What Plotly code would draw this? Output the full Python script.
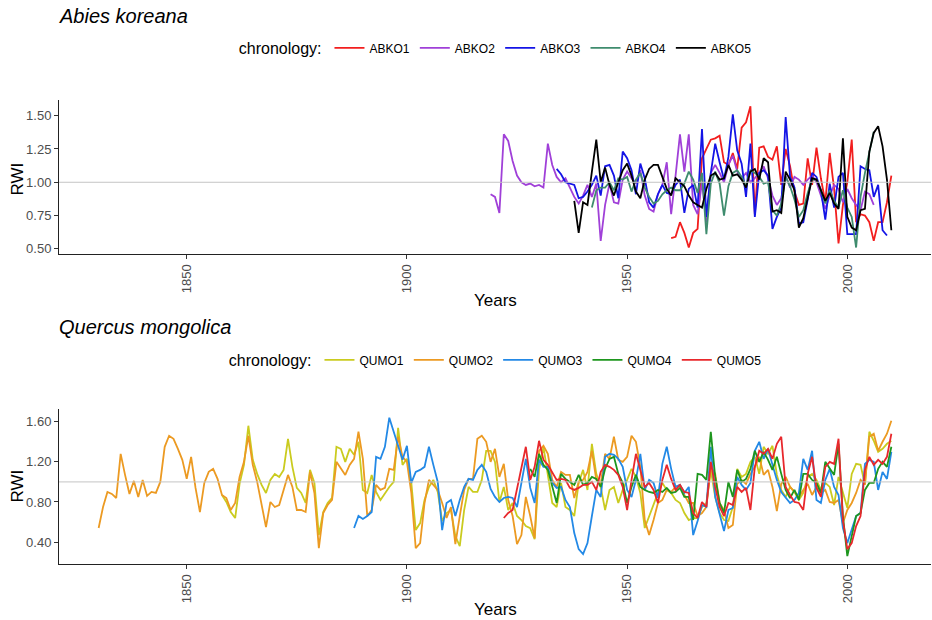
import plotly.graph_objects as go

# ---------------- data (RWI per year) ----------------
abko_names = ["ABKO1", "ABKO2", "ABKO3", "ABKO4", "ABKO5"]
abko_start = [1960, 1919, 1934, 1942, 1938]

abko1 = [0.58, 0.59, 0.70, 0.62, 0.51, 0.62, 0.65, 1.18, 1.25, 1.32,
         1.33, 1.35, 1.15, 1.13, 1.22, 1.10, 1.41, 1.45, 1.57, 0.76,
         1.26, 1.27, 1.19, 1.17, 1.27, 0.98, 1.25, 1.12, 0.93, 0.83,
         0.84, 1.18, 0.98, 1.26, 1.03, 0.85, 1.22, 0.95, 0.54, 0.83,
         1.00, 1.32, 0.70, 0.76, 0.75, 0.70, 0.56, 0.70, 0.70, 0.85, 1.05]
abko2 = [0.91,
         0.89, 0.77, 1.36, 1.31, 1.16, 1.05, 1.00, 0.98, 0.99, 0.97,
         0.98, 0.96, 1.29, 1.13, 1.04, 1.00, 1.03, 0.96, 0.89, 0.84,
         0.90, 0.98, 0.89, 0.99, 0.56, 0.83, 0.99, 0.85, 0.84, 1.02,
         1.08, 1.03, 0.99, 1.09, 0.90, 0.80, 0.78, 0.91, 0.98, 1.15,
         0.76, 1.05, 1.36, 1.08, 1.36, 0.83, 0.76, 1.00, 0.70, 1.07,
         1.13, 1.07, 1.00, 1.13, 1.20, 1.08, 1.03, 1.07, 1.00, 1.03,
         1.08, 1.12, 1.03, 0.90, 0.83, 0.88, 1.05, 0.96, 1.04, 1.02,
         0.98, 1.02, 1.05, 1.00, 0.90, 0.80, 0.90, 0.98, 0.95, 0.85,
         0.95, 0.88, 0.83, 0.79, 0.93, 0.91, 0.83]
abko3 = [1.10, 1.06, 1.00, 0.99, 0.98, 0.88,
         0.89, 0.93, 0.98, 1.05, 0.90, 1.12, 1.13, 1.05, 0.88, 1.23,
         1.18, 1.09, 0.91, 1.14, 1.03, 0.85, 0.81, 0.91, 0.98, 0.92,
         0.91, 0.98, 1.02, 0.77, 0.95, 0.98, 0.81, 1.40, 0.74, 1.07,
         1.29, 1.15, 1.02, 1.19, 1.51, 1.24, 1.14, 0.89, 1.29, 0.74,
         1.07, 1.09, 1.05, 0.65, 0.74, 0.81, 1.49, 1.04, 0.96, 0.69,
         0.70, 0.87, 1.07, 1.04, 0.94, 0.72, 0.99, 0.81, 1.04, 1.07,
         0.61, 0.61, 0.61, 1.12, 1.10, 1.09, 0.89, 0.98, 0.64, 0.60]
abko4 = [0.81, 0.94, 0.96, 0.96, 1.00, 0.94, 1.03, 1.02,
         1.04, 0.93, 1.02, 1.07, 0.96, 0.89, 0.84, 0.86, 0.91, 0.94,
         0.96, 0.94, 0.94, 0.99, 1.08, 1.02, 0.92, 1.07, 0.61, 0.99,
         1.08, 0.99, 0.75, 0.97, 1.07, 1.09, 1.04, 0.97, 1.09, 1.07,
         1.04, 0.99, 1.00, 0.79, 0.75, 0.84, 1.04, 0.97, 0.87, 0.74,
         0.79, 0.92, 1.02, 1.02, 0.94, 0.84, 0.94, 0.86, 0.81, 0.94,
         0.81, 0.74, 0.51, 0.89, 1.07, 1.23, 1.38]
abko5 = [0.86, 0.62,
         0.85, 0.83, 1.08, 1.32, 1.00, 1.11, 0.98, 0.90, 1.00, 1.09,
         1.14, 1.05, 0.93, 0.88, 1.02, 1.10, 1.13, 1.13, 1.04, 0.95,
         0.90, 1.03, 1.00, 0.97, 0.90, 0.85, 0.83, 0.81, 0.95, 1.05,
         1.07, 1.02, 1.03, 1.13, 1.05, 1.06, 1.02, 0.96, 1.08, 1.10,
         1.02, 1.18, 1.15, 0.78, 0.79, 0.77, 1.08, 1.02, 0.94, 0.66,
         0.73, 0.87, 1.03, 1.02, 0.94, 0.86, 0.92, 0.84, 0.80, 1.33,
         0.74, 0.66, 0.64, 0.79, 0.80, 1.23, 1.37, 1.42, 1.27, 1.02, 0.64]

qumo_names = ["QUMO1", "QUMO2", "QUMO3", "QUMO4", "QUMO5"]
qumo_start = [1858, 1830, 1888, 1928, 1922]

qumo1 = [0.87, 0.80,
         0.70, 0.64, 0.98, 1.17, 1.56, 1.22, 1.08, 0.97, 0.89, 1.02,
         1.08, 1.05, 1.12, 1.43, 1.15, 0.94, 0.89, 0.79, 1.12, 0.99,
         0.47, 0.70, 0.79, 0.84, 1.35, 1.33, 1.20, 1.33, 1.27, 1.40,
         0.92, 0.89, 1.07, 0.90, 0.82, 0.89, 0.95, 1.00, 1.54, 1.17,
         1.23, 0.99, 0.52, 0.59, 0.82, 0.95, 1.02, 0.90, 0.61, 0.69,
         0.72, 0.46, 0.36, 0.72, 0.95, 0.90, 0.90, 1.02, 1.31, 1.31,
         1.20, 0.80, 0.95, 0.72, 0.79, 0.66, 0.62, 0.56, 0.54, 0.43,
         1.12, 1.35, 1.05, 0.79, 0.75, 0.99, 0.75, 0.72, 0.66, 0.99,
         1.12, 0.92, 1.38, 1.08, 0.95, 0.72, 0.92, 0.95, 0.79, 0.92,
         1.02, 1.13, 1.05, 0.89, 0.54, 0.66, 0.79, 0.89, 0.99, 0.92,
         0.89, 0.82, 0.79, 0.69, 0.62, 0.64, 0.64, 0.75, 0.79, 1.12,
         0.85, 0.69, 0.62, 0.61, 0.75, 1.13, 1.05, 1.08, 1.20, 1.25,
         1.08, 1.35, 1.28, 1.36, 1.07, 0.92, 0.85, 0.95, 0.90, 0.82,
         0.89, 1.05, 1.08, 1.02, 0.92, 0.99, 0.95, 0.77, 1.05, 0.89,
         0.74, 1.08, 1.18, 1.17, 0.97, 1.50, 1.41, 1.30, 1.33, 1.38, 1.41]
qumo2 = [0.54, 0.75, 0.90, 0.88, 0.84, 1.28, 1.07, 0.88, 1.01, 0.85,
         1.02, 0.86, 0.90, 0.89, 1.00, 1.35, 1.46, 1.43, 1.33, 1.22,
         1.03, 1.25, 0.94, 0.70, 0.99, 1.10, 1.13, 1.03, 0.87, 0.84,
         0.72, 0.79, 1.05, 1.20, 1.46, 1.17, 1.00, 0.79, 0.55, 0.80,
         0.75, 0.77, 0.92, 1.07, 0.95, 0.72, 0.72, 0.70, 1.10, 0.89,
         0.34, 0.69, 0.77, 0.82, 1.20, 1.13, 1.07, 1.17, 1.23, 1.50,
         1.23, 0.66, 0.72, 0.97, 0.92, 0.94, 1.13, 1.12, 1.45, 1.25,
         1.20, 0.89, 0.34, 0.39, 0.79, 1.02, 0.97, 0.92, 0.79, 0.64,
         0.75, 0.38, 0.66, 0.92, 1.03, 1.03, 1.43, 1.46, 1.40, 1.20,
         1.33, 1.05, 1.18, 0.82, 0.66, 0.38, 0.47, 0.85, 0.66, 0.44,
         1.31, 1.36, 1.28, 1.02, 0.95, 1.10, 1.07, 1.07, 0.84, 1.00,
         1.02, 1.10, 1.31, 1.02, 0.98, 1.28, 1.23, 1.45, 1.22, 1.20,
         1.25, 1.46, 1.40, 1.15, 0.62, 0.47, 0.62, 0.79, 0.82, 0.92,
         0.90, 0.95, 0.97, 0.87, 0.79, 0.79, 0.66, 0.69, 0.75, 1.15,
         1.08, 0.79, 0.72, 0.54, 0.57, 0.98, 1.02, 0.98, 1.08, 1.15,
         1.25, 1.07, 1.12, 0.95, 0.71, 0.98, 1.05, 0.95, 0.90, 0.85,
         0.92, 0.98, 0.87, 0.95, 0.89, 0.92, 0.80, 0.79, 0.82, 0.59,
         0.72, 0.79, 0.89, 1.02, 0.98, 1.45, 1.48, 1.31, 1.40, 1.48, 1.61]
qumo3 = [0.54, 0.66,
         0.63, 0.66, 0.70, 1.25, 1.23, 1.35, 1.64, 1.50, 1.38, 1.22,
         1.36, 0.99, 1.10, 1.12, 1.15, 1.35, 1.17, 1.00, 0.52, 0.79,
         0.82, 0.66, 0.82, 0.95, 1.03, 1.02, 1.12, 1.17, 1.10, 0.93,
         0.85, 0.80, 0.84, 0.85, 0.84, 0.75, 0.99, 1.23, 0.94, 0.79,
         1.22, 1.15, 1.15, 0.99, 0.94, 0.95, 0.82, 0.75, 0.49, 0.33,
         0.28, 0.39, 0.66, 0.92, 0.85, 1.25, 1.28, 1.27, 1.23, 1.15,
         0.92, 0.85, 1.02, 1.28, 0.92, 1.02, 0.99, 0.84, 1.18, 1.35,
         1.13, 0.95, 0.97, 0.89, 0.95, 0.47, 0.61, 0.77, 0.75, 1.35,
         0.85, 0.69, 0.51, 0.72, 0.74, 1.05, 0.97, 0.92, 0.99, 1.31,
         1.40, 1.23, 1.33, 1.17, 1.02, 0.90, 0.85, 0.79, 0.82, 0.89,
         1.23, 1.12, 1.31, 0.82, 0.79, 1.02, 1.13, 0.95, 0.87, 0.54,
         0.39, 0.52, 0.66, 0.69, 1.18, 1.22, 1.20, 0.92, 1.10, 1.03, 1.30]
qumo4 = [1.13, 1.05,
         1.28, 1.17, 1.12, 0.95, 0.79, 1.08, 1.03, 1.00, 0.97, 1.07,
         0.97, 0.99, 1.05, 1.03, 0.95, 1.13, 1.23, 1.25, 1.08, 0.99,
         0.79, 0.95, 1.07, 0.95, 0.92, 0.90, 0.89, 0.92, 0.90, 0.94,
         0.89, 0.90, 0.94, 0.85, 0.85, 0.62, 1.08, 1.07, 1.02, 1.50,
         1.05, 0.79, 0.69, 1.00, 0.85, 1.12, 1.00, 1.03, 1.13, 1.31,
         1.20, 1.30, 1.22, 1.12, 1.25, 1.08, 0.92, 0.84, 0.92, 0.82,
         1.08, 1.08, 1.02, 0.99, 0.89, 1.20, 1.13, 1.07, 1.38, 0.66,
         0.26, 0.46, 0.66, 0.69, 0.92, 0.99, 0.99, 1.13, 1.20, 1.15, 1.35]
qumo5 = [0.64, 0.69, 0.72, 0.94, 1.13, 1.35, 1.02, 1.15,
         1.41, 1.22, 1.17, 1.10, 1.02, 1.03, 1.02, 0.94, 0.92, 0.94,
         0.97, 0.97, 1.00, 0.92, 1.10, 1.17, 1.15, 1.12, 1.07, 0.95,
         0.72, 1.02, 1.28, 1.12, 0.95, 0.99, 0.92, 0.79, 1.02, 1.17,
         1.03, 0.92, 0.97, 0.90, 0.89, 0.69, 0.64, 0.80, 0.75, 1.20,
         0.95, 0.75, 0.66, 0.79, 0.77, 0.95, 0.90, 0.94, 0.72, 1.15,
         1.31, 1.28, 1.33, 1.23, 1.38, 1.45, 0.95, 0.87, 0.80, 0.79,
         0.72, 1.08, 1.25, 0.94, 0.85, 1.15, 1.20, 1.18, 1.43, 0.62,
         0.33, 0.39, 0.56, 0.66, 1.12, 1.25, 1.17, 1.22, 1.18, 1.25, 1.48]

abko_values = [abko1, abko2, abko3, abko4, abko5]
qumo_values = [qumo1, qumo2, qumo3, qumo4, qumo5]
x_ticks = [1850, 1900, 1950, 2000]
abko_yticks = [0.50, 0.75, 1.00, 1.25, 1.50]
qumo_yticks = [0.40, 0.80, 1.20, 1.60]

# ---------------- styling ----------------
abko_colors = ["#F21E1E", "#A040D8", "#1414E6", "#3F8C6E", "#000000"]
qumo_colors = ["#CACB1F", "#EC9A22", "#2389E6", "#1E961E", "#E8282C"]
FONT = "Liberation Sans, Arial, sans-serif"
W, H = 932, 620
LW = 1.8

fig = go.Figure()

for name, start, vals, col in zip(abko_names, abko_start, abko_values, abko_colors):
    fig.add_trace(go.Scatter(
        x=list(range(start, start + len(vals))), y=vals, mode="lines", name=name,
        line=dict(color=col, width=LW), xaxis="x", yaxis="y", legend="legend"))

for name, start, vals, col in zip(qumo_names, qumo_start, qumo_values, qumo_colors):
    fig.add_trace(go.Scatter(
        x=list(range(start, start + len(vals))), y=vals, mode="lines", name=name,
        line=dict(color=col, width=LW), xaxis="x2", yaxis="y2", legend="legend2"))

xdom = [59 / W, 931 / W]
top_dom = [1 - 255 / H, 1 - 100 / H]
bot_dom = [1 - 566 / H, 1 - 410 / H]

axis_common = dict(showline=True, linecolor="#222222", linewidth=1, showgrid=False,
                   zeroline=False, ticks="outside", ticklen=4, tickcolor="#333333",
                   tickwidth=1, tickfont=dict(family=FONT, size=13, color="#4D4D4D"))

legend_common = dict(orientation="h", x=0.533, xanchor="center", yanchor="middle",
                     title=dict(text="chronology:", side="left", font=dict(size=16, family=FONT)),
                     font=dict(size=12, family=FONT), bgcolor="rgba(0,0,0,0)")

fig.update_layout(
    width=W, height=H, margin=dict(l=0, r=0, t=0, b=0),
    paper_bgcolor="white", plot_bgcolor="white",
    font=dict(family=FONT, color="black"),
    xaxis=dict(domain=xdom, anchor="y", range=[1821, 2019], tickvals=x_ticks,
               tickangle=-90, **axis_common),
    yaxis=dict(domain=top_dom, anchor="x", range=[0.46, 1.62], tickvals=abko_yticks,
               tickformat=".2f", **axis_common),
    xaxis2=dict(domain=xdom, anchor="y2", range=[1821, 2019], tickvals=x_ticks,
                tickangle=-90, **axis_common),
    yaxis2=dict(domain=bot_dom, anchor="x2", range=[0.18, 1.73], tickvals=qumo_yticks,
                tickformat=".2f", **axis_common),
    legend=dict(y=1 - 49 / H, **legend_common),
    legend2=dict(y=1 - 362 / H, **legend_common),
    shapes=[
        dict(type="line", xref="x domain", x0=0, x1=1, yref="y", y0=1, y1=1,
             line=dict(color="#C4C4C4", width=1), layer="above"),
        dict(type="line", xref="x2 domain", x0=0, x1=1, yref="y2", y0=1, y1=1,
             line=dict(color="#C4C4C4", width=1), layer="above"),
    ],
    annotations=[
        dict(text="<i>Abies koreana</i>", xref="paper", yref="paper", x=57 / W, y=1 - 16 / H,
             xanchor="left", yanchor="middle", showarrow=False, font=dict(size=20, family=FONT)),
        dict(text="<i>Quercus mongolica</i>", xref="paper", yref="paper", x=57 / W, y=1 - 328 / H,
             xanchor="left", yanchor="middle", showarrow=False, font=dict(size=20, family=FONT)),
        dict(text="RWI", xref="paper", yref="paper", x=17 / W, y=1 - 180 / H, textangle=-90,
             xanchor="center", yanchor="middle", showarrow=False, font=dict(size=17, family=FONT)),
        dict(text="RWI", xref="paper", yref="paper", x=17 / W, y=1 - 488 / H, textangle=-90,
             xanchor="center", yanchor="middle", showarrow=False, font=dict(size=17, family=FONT)),
        dict(text="Years", xref="paper", yref="paper", x=495 / W, y=1 - 301 / H,
             xanchor="center", yanchor="middle", showarrow=False, font=dict(size=17, family=FONT)),
        dict(text="Years", xref="paper", yref="paper", x=495 / W, y=1 - 611 / H,
             xanchor="center", yanchor="middle", showarrow=False, font=dict(size=17, family=FONT)),
    ],
)

fig.write_html("out.html", config={"displayModeBar": False},
               post_script="document.body.style.margin='0';document.body.style.overflow='hidden';")
